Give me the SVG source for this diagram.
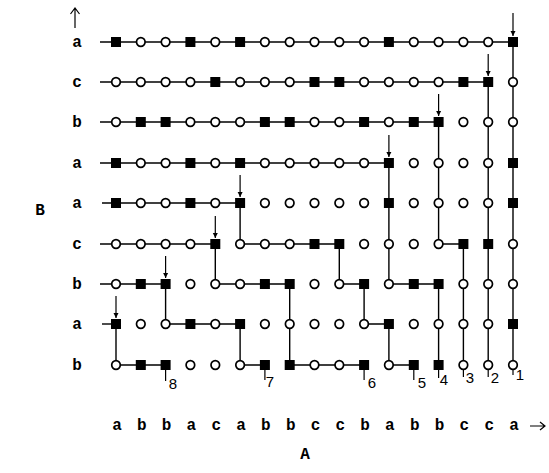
<svg xmlns="http://www.w3.org/2000/svg" xmlns:xlink="http://www.w3.org/1999/xlink" width="549" height="473" viewBox="0 0 549 473">
<style>
.lbl{font-family:"Liberation Mono","DejaVu Sans Mono",monospace;font-weight:bold;font-size:16px;fill:#000;text-anchor:middle}
.num{font-family:"Liberation Sans",Arial,sans-serif;font-size:15px;fill:#000;text-anchor:middle}
.con{fill:none;stroke:#000;stroke-width:1.4}
.arr{fill:none;stroke:#000;stroke-width:1.2}
</style>
<defs>
<rect id="sq" x="-5" y="-5" width="10" height="10" fill="#000"/>
<circle id="ci" r="4.3" fill="#fff" stroke="#000" stroke-width="1.7"/>
<marker id="ah" viewBox="0 0 10 10" refX="10" refY="5" markerUnits="userSpaceOnUse" markerWidth="5" markerHeight="7" orient="auto">
<path d="M0,0 L10,5 L0,10 z" fill="#000"/>
</marker>
</defs>
<rect width="549" height="473" fill="#fff"/>

<g id="connectors" class="con">
<path d="M100 42 H513"/>
<path d="M100 82 H488.2"/>
<path d="M100 122 H438.6"/>
<path d="M100 163 H388.9"/>
<path d="M102 203 H240.1"/>
<path d="M100 244 H215.3"/>
<path d="M100 284 H165.6"/>
<path d="M102 324 H116"/>
<path d="M513 42 V365"/>
<path d="M488.2 82 V365"/>
<path d="M438.6 122 V244 H463.4 V365"/>
<path d="M388.9 163 V284 H438.6 V365"/>
<path d="M240.1 203 V244 H339.3 V284 H364.1 V324 H388.9 V365 H413.8"/>
<path d="M215.3 244 V284 H289.7 V365 H364.1"/>
<path d="M165.6 284 V324 H240.1 V365 H264.9"/>
<path d="M116 324 V365 H165.6"/>
</g>

<g id="start-arrows" class="arr">
<line x1="513" y1="13" x2="513" y2="36" marker-end="url(#ah)"/>
<line x1="488.2" y1="54" x2="488.2" y2="76" marker-end="url(#ah)"/>
<line x1="438.6" y1="94" x2="438.6" y2="116" marker-end="url(#ah)"/>
<line x1="388.9" y1="135" x2="388.9" y2="157" marker-end="url(#ah)"/>
<line x1="240.1" y1="175" x2="240.1" y2="197" marker-end="url(#ah)"/>
<line x1="215.3" y1="216" x2="215.3" y2="238" marker-end="url(#ah)"/>
<line x1="165.6" y1="256" x2="165.6" y2="278" marker-end="url(#ah)"/>
<line x1="116" y1="296" x2="116" y2="318" marker-end="url(#ah)"/>
</g>

<g id="end-ticks" class="arr">
<line x1="165.6" y1="370" x2="165.6" y2="381"/>
<line x1="264.9" y1="370" x2="264.9" y2="380"/>
<line x1="364.1" y1="370" x2="364.1" y2="380"/>
<line x1="413.8" y1="370" x2="413.8" y2="380"/>
<line x1="438.6" y1="370" x2="438.6" y2="378"/>
<line x1="463.4" y1="370" x2="463.4" y2="377"/>
<line x1="488.2" y1="370" x2="488.2" y2="377"/>
<line x1="513" y1="370" x2="513" y2="375"/>
</g>

<g id="nodes">
<g id="n0-0"><use href="#sq" x="116" y="42"/></g>
<g id="n0-1"><use href="#ci" x="140.8" y="42"/></g>
<g id="n0-2"><use href="#ci" x="165.6" y="42"/></g>
<g id="n0-3"><use href="#sq" x="190.4" y="42"/></g>
<g id="n0-4"><use href="#ci" x="215.3" y="42"/></g>
<g id="n0-5"><use href="#sq" x="240.1" y="42"/></g>
<g id="n0-6"><use href="#ci" x="264.9" y="42"/></g>
<g id="n0-7"><use href="#ci" x="289.7" y="42"/></g>
<g id="n0-8"><use href="#ci" x="314.5" y="42"/></g>
<g id="n0-9"><use href="#ci" x="339.3" y="42"/></g>
<g id="n0-10"><use href="#ci" x="364.1" y="42"/></g>
<g id="n0-11"><use href="#sq" x="388.9" y="42"/></g>
<g id="n0-12"><use href="#ci" x="413.8" y="42"/></g>
<g id="n0-13"><use href="#ci" x="438.6" y="42"/></g>
<g id="n0-14"><use href="#ci" x="463.4" y="42"/></g>
<g id="n0-15"><use href="#ci" x="488.2" y="42"/></g>
<g id="n0-16"><use href="#sq" x="513" y="42"/></g>

<g id="n1-0"><use href="#ci" x="116" y="82"/></g>
<g id="n1-1"><use href="#ci" x="140.8" y="82"/></g>
<g id="n1-2"><use href="#ci" x="165.6" y="82"/></g>
<g id="n1-3"><use href="#ci" x="190.4" y="82"/></g>
<g id="n1-4"><use href="#sq" x="215.3" y="82"/></g>
<g id="n1-5"><use href="#ci" x="240.1" y="82"/></g>
<g id="n1-6"><use href="#ci" x="264.9" y="82"/></g>
<g id="n1-7"><use href="#ci" x="289.7" y="82"/></g>
<g id="n1-8"><use href="#sq" x="314.5" y="82"/></g>
<g id="n1-9"><use href="#sq" x="339.3" y="82"/></g>
<g id="n1-10"><use href="#ci" x="364.1" y="82"/></g>
<g id="n1-11"><use href="#ci" x="388.9" y="82"/></g>
<g id="n1-12"><use href="#ci" x="413.8" y="82"/></g>
<g id="n1-13"><use href="#ci" x="438.6" y="82"/></g>
<g id="n1-14"><use href="#sq" x="463.4" y="82"/></g>
<g id="n1-15"><use href="#sq" x="488.2" y="82"/></g>
<g id="n1-16"><use href="#ci" x="513" y="82"/></g>

<g id="n2-0"><use href="#ci" x="116" y="122"/></g>
<g id="n2-1"><use href="#sq" x="140.8" y="122"/></g>
<g id="n2-2"><use href="#sq" x="165.6" y="122"/></g>
<g id="n2-3"><use href="#ci" x="190.4" y="122"/></g>
<g id="n2-4"><use href="#ci" x="215.3" y="122"/></g>
<g id="n2-5"><use href="#ci" x="240.1" y="122"/></g>
<g id="n2-6"><use href="#sq" x="264.9" y="122"/></g>
<g id="n2-7"><use href="#sq" x="289.7" y="122"/></g>
<g id="n2-8"><use href="#ci" x="314.5" y="122"/></g>
<g id="n2-9"><use href="#ci" x="339.3" y="122"/></g>
<g id="n2-10"><use href="#sq" x="364.1" y="122"/></g>
<g id="n2-11"><use href="#ci" x="388.9" y="122"/></g>
<g id="n2-12"><use href="#sq" x="413.8" y="122"/></g>
<g id="n2-13"><use href="#sq" x="438.6" y="122"/></g>
<g id="n2-14"><use href="#ci" x="463.4" y="122"/></g>
<g id="n2-15"><use href="#ci" x="488.2" y="122"/></g>
<g id="n2-16"><use href="#ci" x="513" y="122"/></g>

<g id="n3-0"><use href="#sq" x="116" y="163"/></g>
<g id="n3-1"><use href="#ci" x="140.8" y="163"/></g>
<g id="n3-2"><use href="#ci" x="165.6" y="163"/></g>
<g id="n3-3"><use href="#sq" x="190.4" y="163"/></g>
<g id="n3-4"><use href="#ci" x="215.3" y="163"/></g>
<g id="n3-5"><use href="#sq" x="240.1" y="163"/></g>
<g id="n3-6"><use href="#ci" x="264.9" y="163"/></g>
<g id="n3-7"><use href="#ci" x="289.7" y="163"/></g>
<g id="n3-8"><use href="#ci" x="314.5" y="163"/></g>
<g id="n3-9"><use href="#ci" x="339.3" y="163"/></g>
<g id="n3-10"><use href="#ci" x="364.1" y="163"/></g>
<g id="n3-11"><use href="#sq" x="388.9" y="163"/></g>
<g id="n3-12"><use href="#ci" x="413.8" y="163"/></g>
<g id="n3-13"><use href="#ci" x="438.6" y="163"/></g>
<g id="n3-14"><use href="#ci" x="463.4" y="163"/></g>
<g id="n3-15"><use href="#ci" x="488.2" y="163"/></g>
<g id="n3-16"><use href="#sq" x="513" y="163"/></g>

<g id="n4-0"><use href="#sq" x="116" y="203"/></g>
<g id="n4-1"><use href="#ci" x="140.8" y="203"/></g>
<g id="n4-2"><use href="#ci" x="165.6" y="203"/></g>
<g id="n4-3"><use href="#sq" x="190.4" y="203"/></g>
<g id="n4-4"><use href="#ci" x="215.3" y="203"/></g>
<g id="n4-5"><use href="#sq" x="240.1" y="203"/></g>
<g id="n4-6"><use href="#ci" x="264.9" y="203"/></g>
<g id="n4-7"><use href="#ci" x="289.7" y="203"/></g>
<g id="n4-8"><use href="#ci" x="314.5" y="203"/></g>
<g id="n4-9"><use href="#ci" x="339.3" y="203"/></g>
<g id="n4-10"><use href="#ci" x="364.1" y="203"/></g>
<g id="n4-11"><use href="#sq" x="388.9" y="203"/></g>
<g id="n4-12"><use href="#ci" x="413.8" y="203"/></g>
<g id="n4-13"><use href="#ci" x="438.6" y="203"/></g>
<g id="n4-14"><use href="#ci" x="463.4" y="203"/></g>
<g id="n4-15"><use href="#ci" x="488.2" y="203"/></g>
<g id="n4-16"><use href="#sq" x="513" y="203"/></g>

<g id="n5-0"><use href="#ci" x="116" y="244"/></g>
<g id="n5-1"><use href="#ci" x="140.8" y="244"/></g>
<g id="n5-2"><use href="#ci" x="165.6" y="244"/></g>
<g id="n5-3"><use href="#ci" x="190.4" y="244"/></g>
<g id="n5-4"><use href="#sq" x="215.3" y="244"/></g>
<g id="n5-5"><use href="#ci" x="240.1" y="244"/></g>
<g id="n5-6"><use href="#ci" x="264.9" y="244"/></g>
<g id="n5-7"><use href="#ci" x="289.7" y="244"/></g>
<g id="n5-8"><use href="#sq" x="314.5" y="244"/></g>
<g id="n5-9"><use href="#sq" x="339.3" y="244"/></g>
<g id="n5-10"><use href="#ci" x="364.1" y="244"/></g>
<g id="n5-11"><use href="#ci" x="388.9" y="244"/></g>
<g id="n5-12"><use href="#ci" x="413.8" y="244"/></g>
<g id="n5-13"><use href="#ci" x="438.6" y="244"/></g>
<g id="n5-14"><use href="#sq" x="463.4" y="244"/></g>
<g id="n5-15"><use href="#sq" x="488.2" y="244"/></g>
<g id="n5-16"><use href="#ci" x="513" y="244"/></g>

<g id="n6-0"><use href="#ci" x="116" y="284"/></g>
<g id="n6-1"><use href="#sq" x="140.8" y="284"/></g>
<g id="n6-2"><use href="#sq" x="165.6" y="284"/></g>
<g id="n6-3"><use href="#ci" x="190.4" y="284"/></g>
<g id="n6-4"><use href="#ci" x="215.3" y="284"/></g>
<g id="n6-5"><use href="#ci" x="240.1" y="284"/></g>
<g id="n6-6"><use href="#sq" x="264.9" y="284"/></g>
<g id="n6-7"><use href="#sq" x="289.7" y="284"/></g>
<g id="n6-8"><use href="#ci" x="314.5" y="284"/></g>
<g id="n6-9"><use href="#ci" x="339.3" y="284"/></g>
<g id="n6-10"><use href="#sq" x="364.1" y="284"/></g>
<g id="n6-11"><use href="#ci" x="388.9" y="284"/></g>
<g id="n6-12"><use href="#sq" x="413.8" y="284"/></g>
<g id="n6-13"><use href="#sq" x="438.6" y="284"/></g>
<g id="n6-14"><use href="#ci" x="463.4" y="284"/></g>
<g id="n6-15"><use href="#ci" x="488.2" y="284"/></g>
<g id="n6-16"><use href="#ci" x="513" y="284"/></g>

<g id="n7-0"><use href="#sq" x="116" y="324"/></g>
<g id="n7-1"><use href="#ci" x="140.8" y="324"/></g>
<g id="n7-2"><use href="#ci" x="165.6" y="324"/></g>
<g id="n7-3"><use href="#sq" x="190.4" y="324"/></g>
<g id="n7-4"><use href="#ci" x="215.3" y="324"/></g>
<g id="n7-5"><use href="#sq" x="240.1" y="324"/></g>
<g id="n7-6"><use href="#ci" x="264.9" y="324"/></g>
<g id="n7-7"><use href="#ci" x="289.7" y="324"/></g>
<g id="n7-8"><use href="#ci" x="314.5" y="324"/></g>
<g id="n7-9"><use href="#ci" x="339.3" y="324"/></g>
<g id="n7-10"><use href="#ci" x="364.1" y="324"/></g>
<g id="n7-11"><use href="#sq" x="388.9" y="324"/></g>
<g id="n7-12"><use href="#ci" x="413.8" y="324"/></g>
<g id="n7-13"><use href="#ci" x="438.6" y="324"/></g>
<g id="n7-14"><use href="#ci" x="463.4" y="324"/></g>
<g id="n7-15"><use href="#ci" x="488.2" y="324"/></g>
<g id="n7-16"><use href="#sq" x="513" y="324"/></g>

<g id="n8-0"><use href="#ci" x="116" y="365"/></g>
<g id="n8-1"><use href="#sq" x="140.8" y="365"/></g>
<g id="n8-2"><use href="#sq" x="165.6" y="365"/></g>
<g id="n8-3"><use href="#ci" x="190.4" y="365"/></g>
<g id="n8-4"><use href="#ci" x="215.3" y="365"/></g>
<g id="n8-5"><use href="#ci" x="240.1" y="365"/></g>
<g id="n8-6"><use href="#sq" x="264.9" y="365"/></g>
<g id="n8-7"><use href="#sq" x="289.7" y="365"/></g>
<g id="n8-8"><use href="#ci" x="314.5" y="365"/></g>
<g id="n8-9"><use href="#ci" x="339.3" y="365"/></g>
<g id="n8-10"><use href="#sq" x="364.1" y="365"/></g>
<g id="n8-11"><use href="#ci" x="388.9" y="365"/></g>
<g id="n8-12"><use href="#sq" x="413.8" y="365"/></g>
<g id="n8-13"><use href="#sq" x="438.6" y="365"/></g>
<g id="n8-14"><use href="#ci" x="463.4" y="365"/></g>
<g id="n8-15"><use href="#ci" x="488.2" y="365"/></g>
<g id="n8-16"><use href="#ci" x="513" y="365"/></g>
</g>

<g id="row-labels" class="lbl">
<text x="77" y="47">a</text>
<text x="77" y="87">c</text>
<text x="77" y="127">b</text>
<text x="77" y="168">a</text>
<text x="77" y="208">a</text>
<text x="77" y="249">c</text>
<text x="77" y="289">b</text>
<text x="77" y="329">a</text>
<text x="77" y="370">b</text>
</g>

<g id="col-labels" class="lbl">
<text x="117" y="430">a</text>
<text x="141.8" y="430">b</text>
<text x="166.6" y="430">b</text>
<text x="191.4" y="430">a</text>
<text x="216.3" y="430">c</text>
<text x="241.1" y="430">a</text>
<text x="265.9" y="430">b</text>
<text x="290.7" y="430">b</text>
<text x="315.5" y="430">c</text>
<text x="340.3" y="430">c</text>
<text x="365.1" y="430">b</text>
<text x="389.9" y="430">a</text>
<text x="414.8" y="430">b</text>
<text x="439.6" y="430">b</text>
<text x="464.4" y="430">c</text>
<text x="489.2" y="430">c</text>
<text x="514" y="430">a</text>
</g>

<g id="axis-names" class="lbl">
<text x="40" y="215">B</text>
<text x="305" y="459">A</text>
</g>

<g id="axis-arrows" class="arr">
<path d="M75 28 V8 M70.5 14 L75 8 L79.5 14"/>
<path d="M530 426 H545 M540 422 L545 426 L540 430"/>
</g>

<g id="path-numbers" class="num">
<text x="173" y="389">8</text>
<text x="270" y="387">7</text>
<text x="372" y="388">6</text>
<text x="422" y="388">5</text>
<text x="444" y="385">4</text>
<text x="470" y="383">3</text>
<text x="495" y="383">2</text>
<text x="520" y="380">1</text>
</g>
</svg>
